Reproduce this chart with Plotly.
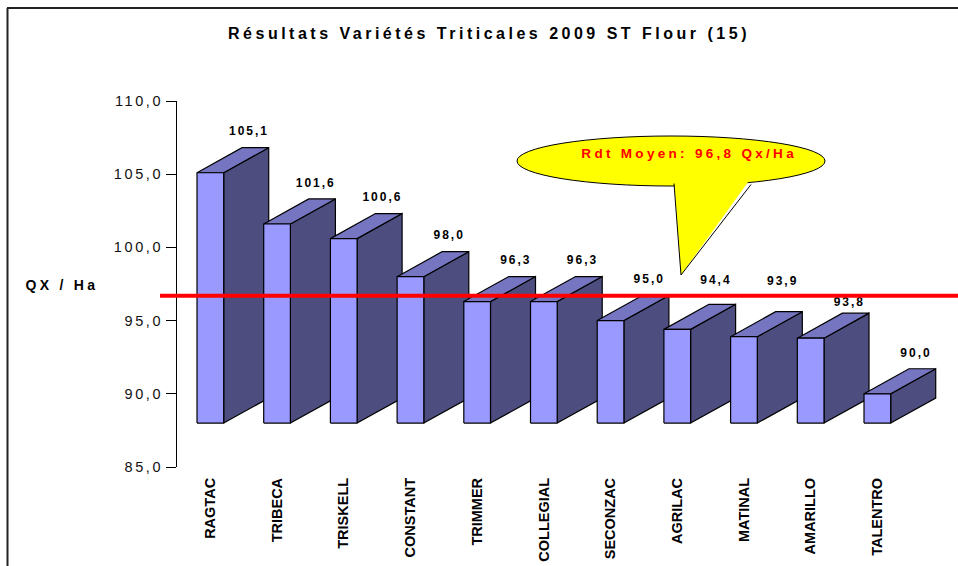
import plotly.graph_objects as go

# ---- data ----
categories = ["RAGTAC", "TRIBECA", "TRISKELL", "CONSTANT", "TRIMMER", "COLLEGIAL",
              "SECONZAC", "AGRILAC", "MATINAL", "AMARILLO", "TALENTRO"]
values = [105.1, 101.6, 100.6, 98.0, 96.3, 96.3, 95.0, 94.4, 93.9, 93.8, 90.0]
y_tick_vals = [85, 90, 95, 100, 105, 110]
mean_line_value = 96.7
mean_label = "Rdt Moyen: 96,8 Qx/Ha"
title_text = "Résultats Variétés Triticales 2009 ST Flour (15)"
y_title = "QX / Ha"

# ---- styling / geometry ----
BASE = 88.0
HALF = 0.2      # half width of front face (category units)
DX = 0.675      # depth offset in x (category units)
DY = 1.71       # depth offset in y (value units)
LABEL_DX = 0.58
LABEL_DY = 2.75
LABEL_NUDGE = {"AGRILAC": 0.55, "MATINAL": 1.0, "AMARILLO": -0.35}
FRONT = "#9999FF"
TOP = "#7575C2"
SIDE = "#4D4D80"
FONT = "Arial, Liberation Sans, sans-serif"

W, H = 958, 566
L, R, T, B = 177, 0, 101, 99
PW, PH = W - L - R, H - T - B


def px2paper(x, y):
    return (x - L) / PW, (H - B - y) / PH


def poly(list_of_pts):
    xs, ys = [], []
    for pts in list_of_pts:
        for (a, b) in pts:
            xs.append(a)
            ys.append(b)
        xs.append(pts[0][0]); ys.append(pts[0][1])
        xs.append(None); ys.append(None)
    return xs, ys


sides, tops, fronts = [], [], []
for i, v in enumerate(values):
    xl, xr = i - HALF, i + HALF
    sides.append([(xr, BASE), (xr + DX, BASE + DY), (xr + DX, v + DY), (xr, v)])
    tops.append([(xl, v), (xr, v), (xr + DX, v + DY), (xl + DX, v + DY)])
    fronts.append([(xl, BASE), (xr, BASE), (xr, v), (xl, v)])

fig = go.Figure()
for pts, col in [(sides, SIDE), (tops, TOP), (fronts, FRONT)]:
    xs, ys = poly(pts)
    fig.add_trace(go.Scatter(x=xs, y=ys, mode="lines", fill="toself", fillcolor=col,
                             line=dict(color="black", width=1.2), hoverinfo="skip",
                             showlegend=False, connectgaps=False))

fig.add_trace(go.Scatter(
    x=[i + LABEL_DX for i in range(len(values))],
    y=[v + LABEL_DY + LABEL_NUDGE.get(c, 0) for c, v in zip(categories, values)],
    mode="text",
    text=[f"{v:.1f}".replace(".", ",") for v in values],
    textfont=dict(family=FONT, size=12, color="black", weight="bold"),
    hoverinfo="skip", showlegend=False, cliponaxis=False))

shapes = []
# frame
shapes.append(dict(type="line", xref="paper", yref="paper",
                   x0=px2paper(7.5, 0)[0], x1=px2paper(7.5, 0)[0],
                   y0=px2paper(0, 8)[1], y1=px2paper(0, 566)[1],
                   line=dict(color="#222", width=2)))
shapes.append(dict(type="line", xref="paper", yref="paper",
                   x0=px2paper(7, 0)[0], x1=px2paper(958, 0)[0],
                   y0=px2paper(0, 8)[1], y1=px2paper(0, 8)[1],
                   line=dict(color="#222", width=2)))
# red mean line
shapes.append(dict(type="line", xref="paper", yref="y",
                   x0=px2paper(160, 0)[0], x1=1.0,
                   y0=mean_line_value, y1=mean_line_value,
                   line=dict(color="#FF0000", width=4), layer="above"))
# callout ellipse
ex0, ey1 = px2paper(517, 136)
ex1, ey0 = px2paper(825, 186)
shapes.append(dict(type="circle", xref="paper", yref="paper",
                   x0=ex0, x1=ex1, y0=ey0, y1=ey1,
                   fillcolor="#FFFF00", line=dict(color="black", width=1), layer="above"))
a = px2paper(674, 178)
tip = px2paper(681, 275)
b = px2paper(751, 178)
a2 = px2paper(674, 183.5)
b2 = px2paper(751, 184.5)
shapes.append(dict(type="path", xref="paper", yref="paper",
                   path=f"M {a[0]},{a[1]} L {tip[0]},{tip[1]} L {b[0]},{b[1]} Z",
                   fillcolor="#FFFF00", line=dict(width=0), layer="above"))
shapes.append(dict(type="path", xref="paper", yref="paper",
                   path=f"M {a2[0]},{a2[1]} L {tip[0]},{tip[1]} L {b2[0]},{b2[1]}",
                   line=dict(color="black", width=1), layer="above"))

annotations = [
    dict(text=mean_label, xref="paper", yref="paper",
         x=px2paper(689, 0)[0], y=px2paper(0, 153)[1], showarrow=False,
         xanchor="center", yanchor="middle",
         font=dict(family=FONT, size=13.5, color="#FF0000", weight="bold")),
    dict(text=y_title, xref="paper", yref="paper",
         x=px2paper(62, 0)[0], y=px2paper(0, 285)[1], showarrow=False,
         xanchor="center", yanchor="middle",
         font=dict(family=FONT, size=14, color="black", weight="bold")),
]

fig.update_layout(
    width=W, height=H,
    margin=dict(l=L, r=R, t=T, b=B, pad=0),
    paper_bgcolor="white", plot_bgcolor="white",
    separators=", ",
    title=dict(text=title_text, x=489 / W, xref="container", xanchor="center",
               y=1 - 33 / H, yref="container", yanchor="middle",
               font=dict(family=FONT, size=16, color="black", weight="bold")),
    shapes=shapes, annotations=annotations,
    showlegend=False,
    xaxis=dict(range=[-0.5, -0.5 + PW / 66.7], tickmode="array",
               tickvals=list(range(len(categories))), ticktext=categories,
               tickangle=-90, showgrid=False, zeroline=False, showline=False,
               ticks="", ticklabelstandoff=7,
               tickfont=dict(family=FONT, size=14.5, color="black", weight="bold")),
    yaxis=dict(range=[85, 110], tickmode="array", tickvals=y_tick_vals,
               tickformat=".1f", showgrid=False, zeroline=False,
               showline=True, linecolor="black", linewidth=1,
               ticks="outside", ticklen=10, tickcolor="black", tickwidth=1,
               tickfont=dict(family=FONT, size=14.5, color="#111")),
)

post = """
document.body.style.margin = '0';
document.body.style.padding = '0';
var gd = document.getElementById('{plot_id}');
function ls(sel, v){ gd.querySelectorAll(sel).forEach(function(e){ e.style.letterSpacing = v; }); }
function apply(){
  ls('.gtitle', '3.5px');
  ls('.ytick text', '2.6px');
  ls('.textpoint text', '2px');
  ls('.annotation-text', '3.3px');
}
apply();
gd.on('plotly_afterplot', apply);
"""

fig.write_html("out.html", post_script=post, config={"displayModeBar": False})
